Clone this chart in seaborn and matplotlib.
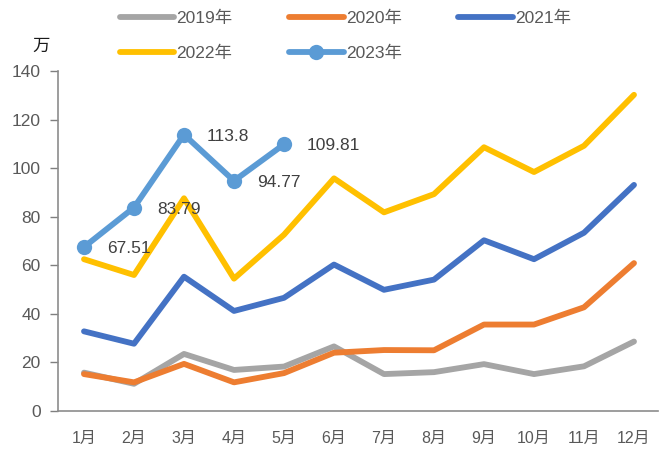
import matplotlib
matplotlib.use("Agg")
import matplotlib.pyplot as plt
import seaborn as sns
import pandas as pd

months = ["1月", "2月", "3月", "4月", "5月", "6月", "7月", "8月", "9月", "10月", "11月", "12月"]
v2019 = [15.8, 11.2, 23.5, 16.9, 18.3, 26.6, 15.2, 16.0, 19.3, 15.2, 18.4, 28.6]
v2020 = [15.2, 11.8, 19.4, 11.8, 15.6, 24.0, 25.1, 25.0, 35.6, 35.6, 42.7, 60.9]
v2021 = [32.8, 27.7, 55.3, 41.2, 46.6, 60.3, 49.9, 54.1, 70.3, 62.5, 73.4, 93.1]
v2022 = [62.5, 56.0, 87.6, 54.5, 72.6, 95.8, 81.8, 89.3, 108.6, 98.4, 109.2, 130.2]
v2023 = [67.51, 83.79, 113.8, 94.77, 109.81]
series_names = ["2019年", "2020年", "2021年", "2022年", "2023年"]
colors = ["#A5A5A5", "#ED7D31", "#4472C4", "#FFC000", "#5B9BD5"]

sns.set_theme(style="white")
plt.rcParams["font.family"] = ["Liberation Sans", "Noto Sans CJK SC"]
text_gray = "#595959"
fs = 12.5

fig = plt.figure(figsize=(6.71, 4.5), dpi=100)
ax = fig.add_axes([58 / 671, 39 / 450, 600 / 671, 340 / 450])

for name, vals, col in zip(series_names, [v2019, v2020, v2021, v2022, v2023], colors):
    df = pd.DataFrame({"x": range(len(vals)), "y": vals})
    is23 = name == "2023年"
    sns.lineplot(data=df, x="x", y="y", ax=ax, color=col, linewidth=4.2,
                 marker="o" if is23 else None, markersize=11 if is23 else 0,
                 markeredgewidth=0, solid_capstyle="round", label=name)

for i, v in enumerate(v2023):
    ax.annotate(f"{v:g}", (i, v), xytext=(16.5, -1.2), textcoords="offset points",
                ha="left", va="center", fontsize=fs, color="#404040")

ax.set_xlim(-0.52, 11.48)
ax.set_ylim(0, 140)
ax.set_yticks(range(0, 141, 20))
ax.set_xticks(range(12))
ax.set_xticklabels(months)
ax.set_xlabel("")
ax.set_ylabel("")
ax.tick_params(axis="y", which="major", left=True, length=5.5, width=1, color="#7f7f7f",
               labelsize=fs, labelcolor=text_gray, pad=7)
ax.tick_params(axis="x", bottom=False, labelsize=11.5, labelcolor=text_gray, pad=8)
for s in ["top", "right"]:
    ax.spines[s].set_visible(False)
for s in ["left", "bottom"]:
    ax.spines[s].set_color("#8c8c8c")
    ax.spines[s].set_linewidth(1.2)
ax.grid(False)

h, l = ax.get_legend_handles_labels()
order = [0, 3, 1, 4, 2]
ax.legend([h[i] for i in order], [l[i] for i in order], ncol=3, frameon=False,
          loc="upper left", bbox_to_anchor=(111 / 671, 1 - 2 / 450),
          bbox_transform=fig.transFigure, fontsize=fs, labelcolor=text_gray,
          handlelength=3.15, handletextpad=0.12, columnspacing=3.25, labelspacing=1.15,
          borderpad=0)

fig.text(41 / 671, 1 - 46 / 450, "万", fontsize=12.5, color="#1a1a1a",
         ha="center", va="center", family=["Noto Sans CJK SC"])

fig.savefig("out.png", dpi=100)
